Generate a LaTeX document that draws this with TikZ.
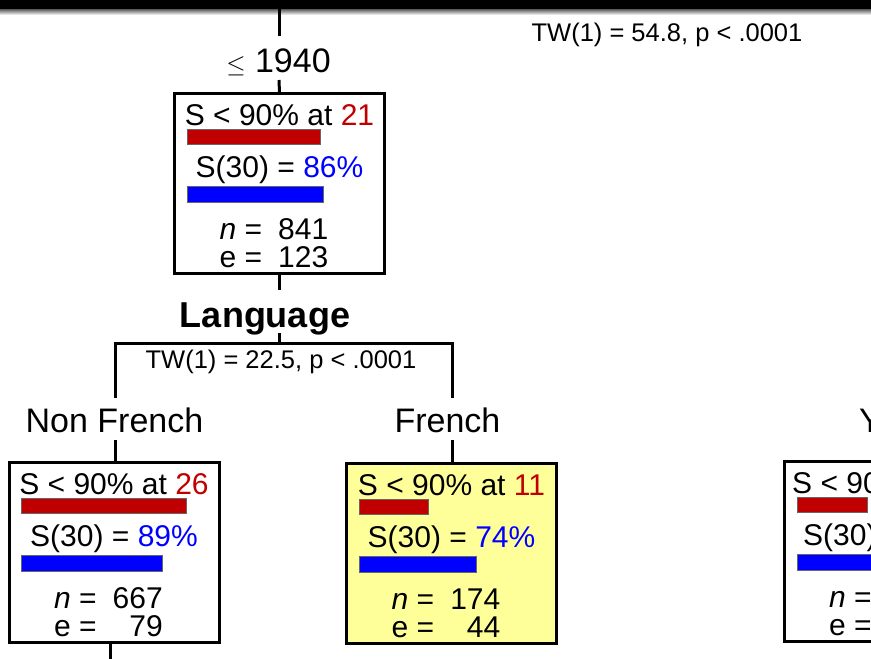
\documentclass[tikz,border=0pt]{standalone}
\usepackage{fontspec}
\setmainfont{Liberation Sans}
\definecolor{agered}{RGB}{192,0,0}
\definecolor{pctblue}{RGB}{0,0,255}
\definecolor{hilite}{RGB}{255,255,153}

\tikzset{
  conn/.style={line width=3pt},
  sbox/.style={draw, line width=3pt, minimum width=210pt, minimum height=180pt,
               outer sep=0pt, inner sep=0pt},
  btxt/.style={inner sep=0pt, font=\fontsize{30}{36}\selectfont},
  lbl/.style={inner sep=0pt, font=\fontsize{34}{40}\selectfont},
  varlbl/.style={inner sep=0pt, font=\fontsize{36}{42}\selectfont\bfseries},
  stat/.style={inner sep=0pt, font=\fontsize{25.5}{30}\selectfont},
  bar/.style={draw=black!60, line width=0.6pt},
}

% survival summary box: name, left x, top y, fill, age at S<90%, S(30) in %, n, events
\newcommand{\survnode}[8]{%
  \node[sbox, fill=#4, anchor=north west] (#1) at (#2,#3) {};
  \node[btxt, anchor=base] (#1-cut) at ([yshift=-32pt]#1.north) {S < 90\% at \textcolor{agered}{#5}};
  \draw[bar, fill=agered] ([shift={(12.5pt,-36pt)}]#1.north west) rectangle ++(6.33*#5,15);
  \node[btxt, anchor=base] (#1-surv) at ([yshift=-84pt]#1.north) {S(30) = \textcolor{pctblue}{#6\%}};
  \draw[bar, fill=pctblue] ([shift={(12.5pt,-93pt)}]#1.north west) rectangle ++(1.58*#6,16);
  \node[btxt, anchor=base west] (#1-nl) at ([shift={(45pt,-146pt)}]#1.north west) {\textit{n} =};
  \node[btxt, anchor=base east] (#1-nv) at ([shift={(154pt,-146pt)}]#1.north west) {#7};
  \node[btxt, anchor=base west] (#1-el) at ([shift={(45pt,-174pt)}]#1.north west) {e =};
  \node[btxt, anchor=base east] (#1-ev) at ([shift={(154pt,-174pt)}]#1.north west) {#8};
}

\begin{document}
\begin{tikzpicture}[x=1pt,y=-1pt]
\useasboundingbox (0,0) rectangle (871,659);
\fill[white] (0,0) rectangle (871,659);
\begin{scope}
\clip (0,0) rectangle (871,659);

% title bar with its soft shadow
\fill[black] (0,0) rectangle (871,9);
\shade[top color=black!65, bottom color=white] (0,9) rectangle (871,15);

% overall test
\node[stat, anchor=base] (tw0) at (667,41) {TW(1) = 54.8, p < .0001};

% first split: birth year
\coordinate (root) at (279,9);
\coordinate (root-end) at (279,36);
\draw[conn] (root) -- (root-end);
\node[lbl, anchor=base] (yr) at (278.5,72) {$\leq$ 1940};
\coordinate (yr-out) at (279,80);

\survnode{b1}{174.5}{93}{white}{21}{86}{841}{123}
\draw[conn] (yr-out) -- (b1.north);

% second split: language
\coordinate (b1-out) at (279.5,290);
\draw[conn] (b1.south) -- (b1-out);
\node[varlbl, anchor=base] (lang) at (265,327) {Language};
\coordinate (lang-out) at (279.5,333);
\coordinate (fork) at (279.5,343);
\coordinate (fork-l) at (115,343);
\coordinate (fork-r) at (452,343);
\coordinate (leg-l) at (115,398);
\coordinate (leg-r) at (452,398);
\draw[conn] (lang-out) -- (fork);
\draw[conn] (leg-l) -- (fork-l) -- (fork-r) -- (leg-r);
\node[stat, anchor=base] (tw1) at (281,368) {TW(1) = 22.5, p < .0001};

\node[lbl, anchor=base] (nf) at (114.5,432) {Non French};
\node[lbl, anchor=base] (fr) at (447.5,432) {French};
\node[lbl, anchor=base west] (yl) at (859,432) {Y};

\survnode{b2}{9}{462}{white}{26}{89}{667}{\ \,79}
\survnode{b3}{346.5}{463}{hilite}{11}{74}{174}{44}

\coordinate (nf-in) at (115,440);
\coordinate (fr-in) at (452,440);
\draw[conn] (nf-in) -- (nf-in |- b2.north);
\draw[conn] (fr-in) -- (fr-in |- b3.north);
\coordinate (b2-out) at (110,659);
\draw[conn] (b2-out |- b2.south) -- (b2-out);

% partially visible box at the right edge
\node[sbox, fill=white, anchor=north west] (b4) at (784,461) {};
\node[btxt, anchor=base west] (b4-cut) at ([shift={(8pt,-32pt)}]b4.north west) {S < 90\% at};
\draw[bar, fill=agered] ([shift={(13pt,-36pt)}]b4.north west) rectangle ++(70,15);
\node[btxt, anchor=base west] (b4-surv) at ([shift={(19pt,-84pt)}]b4.north west) {S(30) =};
\draw[bar, fill=pctblue] ([shift={(13pt,-93pt)}]b4.north west) rectangle ++(120,16);
\node[btxt, anchor=base west] (b4-nl) at ([shift={(45pt,-146pt)}]b4.north west) {\textit{n} =};
\node[btxt, anchor=base west] (b4-el) at ([shift={(45pt,-174pt)}]b4.north west) {e =};
\end{scope}
\end{tikzpicture}
\end{document}
